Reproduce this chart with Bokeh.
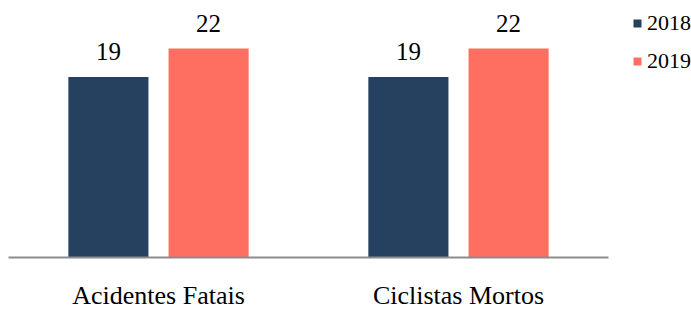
from bokeh.plotting import figure
from bokeh.models import ColumnDataSource, FactorRange, Legend, LegendItem, LabelSet, Range1d
from bokeh.transform import dodge
from bokeh.embed import file_html
from bokeh.resources import INLINE

categories = ["Acidentes Fatais", "Ciclistas Mortos"]
years = ["2018", "2019"]
values_2018 = [19, 19]
values_2019 = [22, 22]
colors = ["#26405F", "#FF6F61"]

FONT = "Liberation Serif"

src = ColumnDataSource(dict(
    cat=categories,
    v18=values_2018,
    v19=values_2019,
    t18=[str(v) for v in values_2018],
    t19=[str(v) for v in values_2019],
))

p = figure(
    x_range=FactorRange(*categories, range_padding=0),
    y_range=Range1d(0, 25.9),
    frame_width=600, frame_height=246,
    output_backend="svg", toolbar_location=None,
    min_border_left=8, min_border_top=11, min_border_bottom=0, min_border_right=83,
    outline_line_color=None,
)

r18 = p.vbar(x=dodge("cat", -0.167, range=p.x_range), top="v18", width=0.267,
             source=src, fill_color=colors[0], line_color=None)
r19 = p.vbar(x=dodge("cat", 0.167, range=p.x_range), top="v19", width=0.267,
             source=src, fill_color=colors[1], line_color=None)

for col, off in (("18", -0.167), ("19", 0.167)):
    lab = LabelSet(x=dodge("cat", off, range=p.x_range), y="v" + col, text="t" + col,
                   source=src, text_align="center", text_baseline="alphabetic",
                   y_offset=17, text_font=FONT, text_font_size="25px",
                   text_color="black")
    p.add_layout(lab)

p.xgrid.visible = False
p.ygrid.visible = False
p.yaxis.visible = False
ax = p.xaxis[0]
ax.axis_line_color = "#8C8C8C"
ax.axis_line_width = 2
ax.major_tick_line_color = None
ax.minor_tick_line_color = None
ax.major_label_text_font = FONT
ax.major_label_text_font_size = "26px"
ax.major_label_text_color = "black"
ax.major_label_standoff = 17

legend = Legend(items=[LegendItem(label=years[0], renderers=[r18]),
                       LegendItem(label=years[1], renderers=[r19])],
                location=(24, 182), orientation="vertical",
                margin=0, padding=2, spacing=10,
                glyph_width=10, glyph_height=10, label_height=28,
                label_standoff=5, label_text_font=FONT,
                label_text_font_size="22px", label_text_color="black",
                border_line_color=None, background_fill_alpha=0)
p.add_layout(legend, "right")

open("out.html", "w").write(file_html(p, INLINE))
